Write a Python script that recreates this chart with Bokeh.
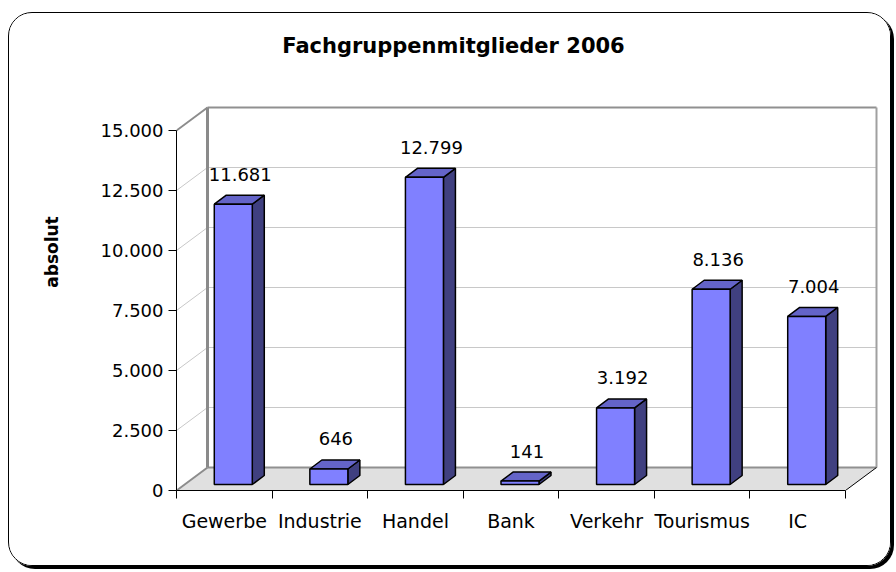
from bokeh.plotting import figure
from bokeh.models import (Range1d, FixedTicker, ColumnDataSource, Label)
from bokeh.core.properties import value
from bokeh.embed import file_html
from bokeh.resources import INLINE

# ---- data ----
categories = ["Gewerbe", "Industrie", "Handel", "Bank", "Verkehr", "Tourismus", "IC"]
members = [11681, 646, 12799, 141, 3192, 8136, 7004]
y_ticks = [0, 2500, 5000, 7500, 10000, 12500, 15000]
y_tick_labels = ["0", "2.500", "5.000", "7.500", "10.000", "12.500", "15.000"]
title_text = "Fachgruppenmitglieder 2006"
y_title = "absolut"

# ---- geometry (pixel based conversion) ----
W, H = 883, 554
LEFT, BOTTOM = 167, 77
PX_PER_CAT = 95.571           # pixels per category
UNITS_PER_PX = 15000 / 360.0  # value units per vertical pixel
frame_w = W - LEFT
frame_h = H - BOTTOM

def ux(px):
    return px / PX_PER_CAT

def uy(px):
    return px * UNITS_PER_PX

DX, DY = ux(31), uy(23)       # depth of the 3d box
BDX, BDY = ux(12), uy(9)      # depth of each bar
BASE = uy(6)                  # bars sit mid-depth on the floor
OFF = ux(9)
HW = ux(19)
n = len(categories)
ymax = y_ticks[-1]

FONT = "DejaVu Sans"

p = figure(width=W, height=H, output_backend="svg", toolbar_location=None,
           x_range=Range1d(0, frame_w / PX_PER_CAT),
           y_range=Range1d(0, uy(frame_h)),
           min_border_left=LEFT, min_border_bottom=BOTTOM,
           min_border_top=0, min_border_right=0)
p.outline_line_color = None
p.background_fill_color = "white"
p.border_fill_color = "white"
p.grid.visible = False
p.styles = {"border": "1px solid black", "border-radius": "24px",
            "box-shadow": "3px 3px 0 0 black", "overflow": "hidden",
            "margin-top": "12px", "margin-left": "8px"}

# floor
p.patch([0, n, n + DX, DX], [0, 0, DY, DY], fill_color="#e0e0e0", line_color=None)

# left wall diagonals and back wall gridlines
for t in y_ticks:
    col = "#c8c8c8" if 0 < t < ymax else "#8c8c8c"
    w = 1 if 0 < t < ymax else 2
    p.line([0, DX], [t, t + DY], line_color=col, line_width=w)
    if 0 < t < ymax:
        p.line([DX, n + DX], [t + DY, t + DY], line_color="#c8c8c8", line_width=1)
# back wall edges
p.line([DX, n + DX], [ymax + DY, ymax + DY], line_color="#909090", line_width=2)
p.line([DX, n + DX], [DY, DY], line_color="#909090", line_width=2)
p.line([DX, DX], [DY, ymax + DY], line_color="#8a8a8a", line_width=3)
p.line([n + DX, n + DX], [DY, ymax + DY], line_color="#a0a0a0", line_width=2)
p.line([n, n + DX], [0, DY], line_color="black", line_width=1)

# bars
x0 = [i + 0.5 + OFF - HW for i in range(n)]
x1 = [i + 0.5 + OFF + HW for i in range(n)]
y0 = [BASE] * n
y1 = [BASE + v for v in members]
src = ColumnDataSource(dict(left=x0, right=x1, bottom=y0, top=y1))
side_xs = [[a, a + BDX, a + BDX, a] for a in x1]
side_ys = [[b, b + BDY, t + BDY, t] for b, t in zip(y0, y1)]
top_xs = [[l, r, r + BDX, l + BDX] for l, r in zip(x0, x1)]
top_ys = [[t, t, t + BDY, t + BDY] for t in y1]
p.patches(side_xs, side_ys, fill_color="#404080", line_color="black", line_width=1.5)
p.patches(top_xs, top_ys, fill_color="#6464c8", line_color="black", line_width=1.5)
p.quad(left="left", right="right", bottom="bottom", top="top", source=src,
       fill_color="#8080ff", line_color="black", line_width=1.5)

# value labels
lab_src = ColumnDataSource(dict(
    x=[i + 0.5 + ux(16) for i in range(n)],
    y=[t + BDY + uy(21) for t in y1],
    text=[f"{v:,}".replace(",", ".") for v in members]))
p.text(x="x", y="y", text="text", source=lab_src, text_align="center",
       text_baseline="middle", text_font=value(FONT), text_font_size="18px",
       text_color="black")

# y axis
ya = p.yaxis[0]
ya.ticker = FixedTicker(ticks=y_ticks)
ya.major_label_overrides = {t: s for t, s in zip(y_ticks, y_tick_labels)}
ya.bounds = (0, ymax)
ya.axis_line_color = "black"
ya.major_tick_line_color = "black"
ya.major_tick_out = 8
ya.major_tick_in = 0
ya.minor_tick_line_color = None
ya.major_label_text_font = FONT
ya.major_label_text_font_size = "18px"
ya.major_label_text_color = "black"
ya.major_label_standoff = 5
ya.axis_label = y_title
ya.axis_label_text_font = FONT
ya.axis_label_text_font_style = "bold"
ya.axis_label_text_font_size = "17px"
ya.axis_label_text_color = "black"
ya.axis_label_standoff = 36

# x axis
xa = p.xaxis[0]
xa.ticker = FixedTicker(ticks=[i + 0.5 for i in range(n)],
                        minor_ticks=list(range(n + 1)))
xa.major_label_overrides = {i + 0.5: c for i, c in enumerate(categories)}
xa.bounds = (0, n)
xa.axis_line_color = "black"
xa.major_tick_line_color = None
xa.major_tick_out = 0
xa.major_tick_in = 0
xa.minor_tick_line_color = "black"
xa.minor_tick_out = 8
xa.minor_tick_in = 0
xa.major_label_text_font = FONT
xa.major_label_text_font_size = "19px"
xa.major_label_text_color = "black"
xa.major_label_standoff = 11

# title
p.add_layout(Label(x=277, y=445, x_units="screen", y_units="screen",
                   text=title_text, text_align="center", text_baseline="middle",
                   text_font=FONT, text_font_style="bold", text_font_size="21px",
                   text_color="black"))

open("out.html", "w").write(file_html(p, INLINE))
